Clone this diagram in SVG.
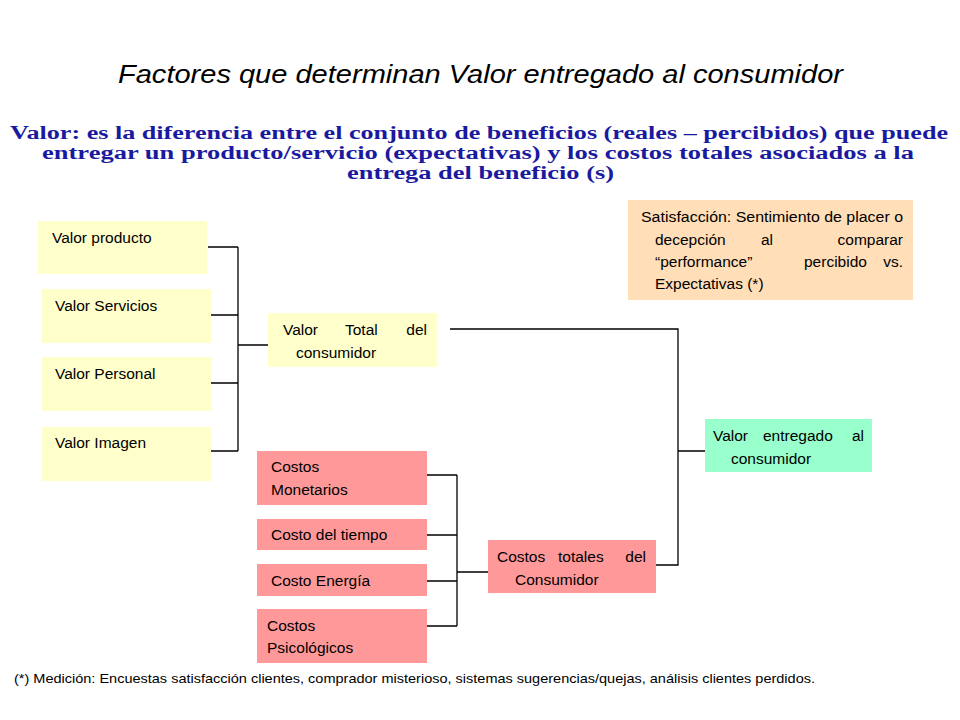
<svg xmlns="http://www.w3.org/2000/svg" width="960" height="720" viewBox="0 0 960 720">
<style>
text{font-family:"Liberation Sans",Arial,sans-serif;font-size:15.5px;fill:#000}
.y{fill:#ffffcc}.r{fill:#ff9999}
.c{fill:none;stroke:#000;stroke-width:1.3}
.sub{font-family:"Liberation Serif","DejaVu Serif",serif;font-weight:bold;font-size:18px;fill:#1a1aa0}
</style>
<rect width="960" height="720" fill="#fff"/>
<text x="118" y="83" textLength="725" lengthAdjust="spacingAndGlyphs" style="font-size:26px;font-style:italic">Factores que determinan Valor entregado al consumidor</text>
<text class="sub" x="10" y="139" textLength="938" lengthAdjust="spacingAndGlyphs">Valor: es la diferencia entre el conjunto de beneficios (reales – percibidos) que puede</text>
<text class="sub" x="42" y="159" textLength="872" lengthAdjust="spacingAndGlyphs">entregar un producto/servicio (expectativas) y los costos totales asociados a la</text>
<text class="sub" x="347" y="179" textLength="267" lengthAdjust="spacingAndGlyphs">entrega del beneficio (s)</text>
<g id="connectors">
<path class="c" d="M208 247H238M211 315H238M211 383H238M211 451H238M238 247V451M238 345H268"/>
<path class="c" d="M450 329H678V565H655M678 451H705"/>
<path class="c" d="M427 475H457M427 535H457M427 581H457M427 626H457M457 475V626M457 572H488"/>
</g>
<g id="n1"><rect class="y" x="38" y="221" width="169" height="53"/><text x="52" y="243">Valor producto</text></g>
<g id="n2"><rect class="y" x="42" y="289" width="169" height="54"/><text x="55" y="311">Valor Servicios</text></g>
<g id="n3"><rect class="y" x="42" y="357" width="169" height="54"/><text x="55" y="379">Valor Personal</text></g>
<g id="n4"><rect class="y" x="42" y="427" width="169" height="54"/><text x="55" y="448">Valor Imagen</text></g>
<g id="n5"><rect class="y" x="268" y="313" width="169" height="54"/><text x="283" y="335">Valor</text><text x="345" y="335">Total</text><text x="427" y="335" text-anchor="end">del</text><text x="296" y="358">consumidor</text></g>
<g id="n6"><rect class="r" x="257" y="451" width="170" height="54"/><text x="271" y="472">Costos</text><text x="271" y="495">Monetarios</text></g>
<g id="n7"><rect class="r" x="257" y="519" width="170" height="31"/><text x="271" y="540">Costo del tiempo</text></g>
<g id="n8"><rect class="r" x="257" y="564" width="170" height="32"/><text x="271" y="586">Costo Energía</text></g>
<g id="n9"><rect class="r" x="257" y="609" width="170" height="54"/><text x="267" y="631">Costos</text><text x="267" y="653">Psicológicos</text></g>
<g id="n10"><rect class="r" x="488" y="540" width="168" height="53"/><text x="497" y="562">Costos</text><text x="558" y="562">totales</text><text x="646" y="562" text-anchor="end">del</text><text x="515" y="585">Consumidor</text></g>
<g id="n11"><rect fill="#99ffcc" x="705" y="419" width="167" height="53"/><text x="713" y="441">Valor</text><text x="763" y="441">entregado</text><text x="864" y="441" text-anchor="end">al</text><text x="731" y="464">consumidor</text></g>
<g id="n12"><rect fill="#ffdeb8" x="628" y="200" width="285" height="100"/>
<text x="641" y="222" textLength="262" lengthAdjust="spacingAndGlyphs">Satisfacción: Sentimiento de placer o</text>
<text x="655" y="245">decepción</text><text x="761" y="245">al</text><text x="903" y="245" text-anchor="end">comparar</text>
<text x="655" y="267">“performance”</text><text x="804" y="267">percibido</text><text x="903" y="267" text-anchor="end">vs.</text>
<text x="655" y="289">Expectativas (*)</text></g>
<text x="14" y="683" textLength="801" lengthAdjust="spacingAndGlyphs" style="font-size:13px">(*) Medición: Encuestas satisfacción clientes, comprador misterioso, sistemas sugerencias/quejas, análisis clientes perdidos.</text>
</svg>
